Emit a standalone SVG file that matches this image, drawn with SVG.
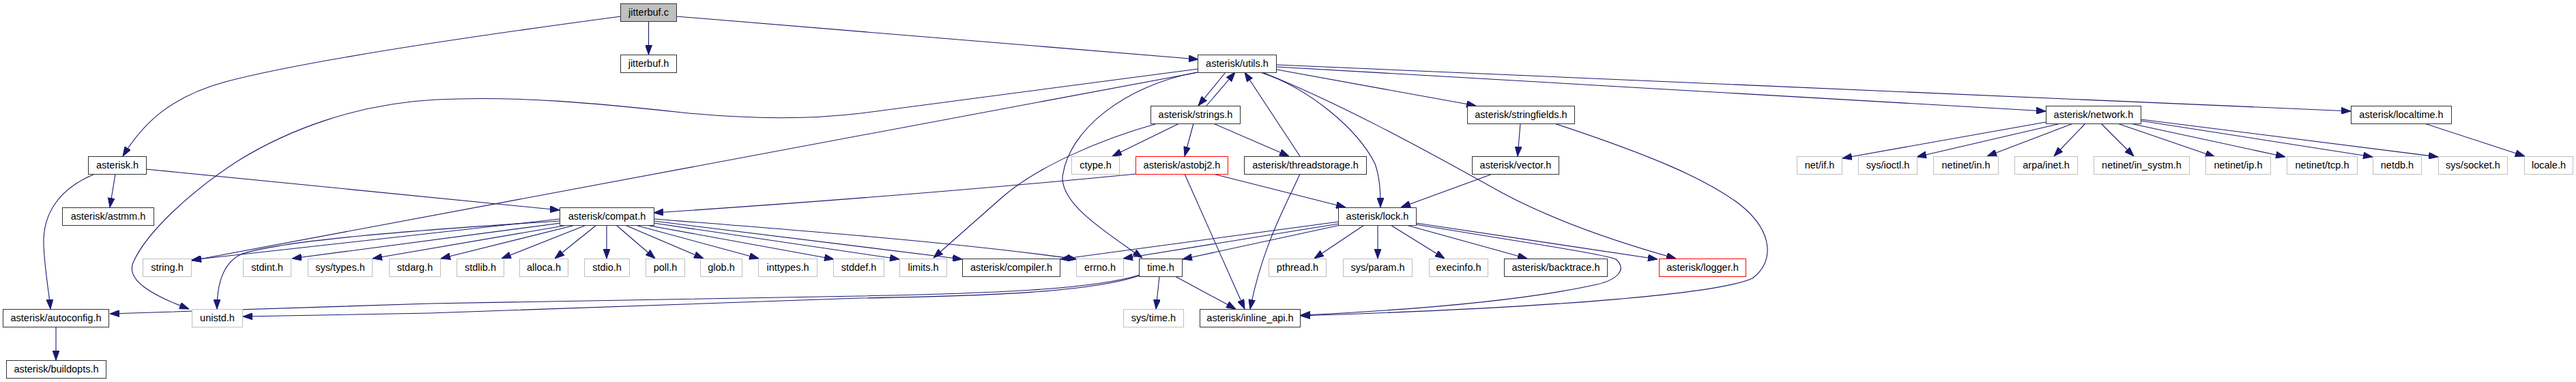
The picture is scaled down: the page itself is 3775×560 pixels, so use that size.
<svg xmlns="http://www.w3.org/2000/svg" width="3775" height="560" viewBox="0 0 3775 560">
<defs>
<style>
.n rect{fill:#fff;stroke:#333;stroke-width:1}
.g rect{stroke:#bfbfbf}
.r rect{stroke:#ff0000}
.root rect{fill:#bfbfbf}
.n text{font-family:"Liberation Sans",Arial,sans-serif;font-size:14.5px;text-anchor:middle;fill:#000}
.e path{fill:none;stroke:#191970;stroke-width:1.1;marker-end:url(#a)}
</style>
<marker id="a" viewBox="0 0 14 10" refX="14" refY="5" markerWidth="14" markerHeight="10" markerUnits="userSpaceOnUse" orient="auto"><path d="M0,0 L14,5 L0,10 Z" fill="#191970" stroke="#191970" stroke-width="1"/></marker>
</defs>
<rect width="3775" height="560" fill="#fff"/>
<g id="edges" class="e">
<path d="M950.5,32 L950.5,80"/>
<path d="M910,24 C700,52 450,88 330,120 C250,142 210,180 180,229"/>
<path d="M991,24 L1756,87"/>
<path d="M169,255 L161,304"/>
<path d="M139,255 C90,275 62,310 64,360 C66,400 72,430 74,453"/>
<path d="M214,248 L820,308"/>
<path d="M1796,106 L1756,155"/>
<path d="M1768,155 L1810,106"/>
<path d="M1905,229 L1824,106"/>
<path d="M1756,101 L1262,166 C1180,176 1090,174 1000,165 C880,152 760,140 640,146 C520,152 420,192 350,235 C280,280 215,340 195,385 C185,410 220,432 277,453"/>
<path d="M1756,106 L281,382"/>
<path d="M1754,106 C1650,125 1565,190 1557,260 C1556,300 1620,340 1674,378"/>
<path d="M1728,181 L1630,229"/>
<path d="M1749,181 L1736,229"/>
<path d="M1778,181 L1889,229"/>
<path d="M1696,181 C1610,205 1520,245 1470,288 L1368,378"/>
<path d="M1665,255 C1450,276 1200,296 958,312"/>
<path d="M1778,255 L1972,304"/>
<path d="M1736,255 L1824,453"/>
<path d="M1905,255 C1885,300 1850,360 1832,453"/>
<path d="M2187,255 L2053,304"/>
<path d="M1847,106 C1920,130 1990,190 2015,240 C2022,260 2023,280 2023,304"/>
<path d="M1850,106 C1960,150 2080,215 2200,282 C2280,325 2370,355 2456,379"/>
<path d="M1871,102 L2163,155"/>
<path d="M1871,98 L2998,163"/>
<path d="M1871,95 L3445,163"/>
<path d="M2228,181 L2224,229"/>
<path d="M2278,181 C2420,228 2500,262 2550,300 C2600,340 2600,385 2568,408 C2520,430 2300,450 1906,463"/>
<path d="M2998,179 L2700,232"/>
<path d="M3020,181 L2809,230"/>
<path d="M3038,181 L2912,229"/>
<path d="M3056,181 L3010,229"/>
<path d="M3079,181 L3127,229"/>
<path d="M3103,181 L3246,230"/>
<path d="M3122,181 L3349,230"/>
<path d="M3137,177 L3477,230"/>
<path d="M3137,175 L3573,230"/>
<path d="M3553,181 L3700,229"/>
<path d="M820,321 L281,381"/>
<path d="M820,324 C600,338 420,352 355,372 C325,385 318,420 318,453"/>
<path d="M822,327 L428,379"/>
<path d="M832,330 L546,379"/>
<path d="M843,330 L646,379"/>
<path d="M859,330 L735,379"/>
<path d="M874,330 L813,379"/>
<path d="M889,330 L889,379"/>
<path d="M903,330 L960,379"/>
<path d="M916,330 L1031,379"/>
<path d="M931,330 L1112,379"/>
<path d="M947,330 L1222,380"/>
<path d="M958,327 L1318,380"/>
<path d="M958,324 L1410,380"/>
<path d="M958,321 C1150,336 1400,355 1578,380"/>
<path d="M1962,325 L1554,380"/>
<path d="M1962,328 L1646,379"/>
<path d="M1964,330 L1733,380"/>
<path d="M1999,330 L1926,379"/>
<path d="M2019,330 L2019,379"/>
<path d="M2038,330 L2117,379"/>
<path d="M2061,330 L2238,379"/>
<path d="M2075,327 L2429,380"/>
<path d="M2075,329 C2200,350 2350,372 2368,380 C2385,395 2370,410 2340,417 C2250,437 2100,453 1906,462"/>
<path d="M1699,405 L1694,453"/>
<path d="M1722,405 L1811,453"/>
<path d="M1670,403 C1600,425 1450,430 1260,434 L630,445 L161,460"/>
<path d="M1670,404 C1600,428 1450,434 1260,437 L630,459 L356,464"/>
<path d="M82,479 L82,528"/>
</g>
<g id="jitterbuf_c" class="n root"><rect x="909.5" y="5.5" width="82" height="26"/><text x="950.5" y="23">jitterbuf.c</text></g>
<g id="jitterbuf_h" class="n"><rect x="909.5" y="80.5" width="82" height="26"/><text x="950.5" y="98">jitterbuf.h</text></g>
<g id="utils" class="n"><rect x="1755.5" y="80.5" width="115" height="26"/><text x="1813" y="98">asterisk/utils.h</text></g>
<g id="strings" class="n"><rect x="1686.5" y="155.5" width="131" height="26"/><text x="1752" y="173">asterisk/strings.h</text></g>
<g id="stringfields" class="n"><rect x="2150.5" y="155.5" width="157" height="26"/><text x="2229" y="173">asterisk/stringfields.h</text></g>
<g id="network" class="n"><rect x="2998.5" y="155.5" width="139" height="26"/><text x="3068" y="173">asterisk/network.h</text></g>
<g id="localtime" class="n"><rect x="3445.5" y="155.5" width="147" height="26"/><text x="3519" y="173">asterisk/localtime.h</text></g>
<g id="asterisk" class="n"><rect x="129.5" y="229.5" width="85" height="26"/><text x="172" y="247">asterisk.h</text></g>
<g id="ctype" class="n g"><rect x="1570.5" y="229.5" width="70" height="26"/><text x="1605.5" y="247">ctype.h</text></g>
<g id="astobj2" class="n r"><rect x="1664.5" y="229.5" width="135" height="26"/><text x="1732" y="247">asterisk/astobj2.h</text></g>
<g id="threadstorage" class="n"><rect x="1823.5" y="229.5" width="179" height="26"/><text x="1913" y="247">asterisk/threadstorage.h</text></g>
<g id="vector" class="n"><rect x="2157.5" y="229.5" width="127" height="26"/><text x="2221" y="247">asterisk/vector.h</text></g>
<g id="netif" class="n g"><rect x="2633.5" y="229.5" width="66" height="26"/><text x="2666.5" y="247">net/if.h</text></g>
<g id="ioctl" class="n g"><rect x="2723.5" y="229.5" width="86" height="26"/><text x="2766.5" y="247">sys/ioctl.h</text></g>
<g id="netin" class="n g"><rect x="2833.5" y="229.5" width="95" height="26"/><text x="2881" y="247">netinet/in.h</text></g>
<g id="arpa" class="n g"><rect x="2952.5" y="229.5" width="92" height="26"/><text x="2998.5" y="247">arpa/inet.h</text></g>
<g id="insystm" class="n g"><rect x="3068.5" y="229.5" width="140" height="26"/><text x="3138.5" y="247">netinet/in_systm.h</text></g>
<g id="ip" class="n g"><rect x="3232.5" y="229.5" width="95" height="26"/><text x="3280" y="247">netinet/ip.h</text></g>
<g id="tcp" class="n g"><rect x="3351.5" y="229.5" width="103" height="26"/><text x="3403" y="247">netinet/tcp.h</text></g>
<g id="netdb" class="n g"><rect x="3477.5" y="229.5" width="71" height="26"/><text x="3513" y="247">netdb.h</text></g>
<g id="socket" class="n g"><rect x="3573.5" y="229.5" width="101" height="26"/><text x="3624" y="247">sys/socket.h</text></g>
<g id="locale" class="n g"><rect x="3699.5" y="229.5" width="71" height="26"/><text x="3735" y="247">locale.h</text></g>
<g id="astmm" class="n"><rect x="91.5" y="304.5" width="134" height="26"/><text x="158.5" y="322">asterisk/astmm.h</text></g>
<g id="compat" class="n"><rect x="820.5" y="304.5" width="138" height="26"/><text x="889.5" y="322">asterisk/compat.h</text></g>
<g id="lock" class="n"><rect x="1961.5" y="304.5" width="114" height="26"/><text x="2018.5" y="322">asterisk/lock.h</text></g>
<g id="string" class="n g"><rect x="209.5" y="379.5" width="71" height="26"/><text x="245" y="397">string.h</text></g>
<g id="stdint" class="n g"><rect x="356.5" y="379.5" width="70" height="26"/><text x="391.5" y="397">stdint.h</text></g>
<g id="systypes" class="n g"><rect x="451.5" y="379.5" width="94" height="26"/><text x="498.5" y="397">sys/types.h</text></g>
<g id="stdarg" class="n g"><rect x="570.5" y="379.5" width="75" height="26"/><text x="608" y="397">stdarg.h</text></g>
<g id="stdlib" class="n g"><rect x="669.5" y="379.5" width="69" height="26"/><text x="704" y="397">stdlib.h</text></g>
<g id="alloca" class="n g"><rect x="761.5" y="379.5" width="71" height="26"/><text x="797" y="397">alloca.h</text></g>
<g id="stdio" class="n g"><rect x="856.5" y="379.5" width="66" height="26"/><text x="889.5" y="397">stdio.h</text></g>
<g id="poll" class="n g"><rect x="946.5" y="379.5" width="57" height="26"/><text x="975" y="397">poll.h</text></g>
<g id="glob" class="n g"><rect x="1026.5" y="379.5" width="61" height="26"/><text x="1057" y="397">glob.h</text></g>
<g id="inttypes" class="n g"><rect x="1111.5" y="379.5" width="86" height="26"/><text x="1154.5" y="397">inttypes.h</text></g>
<g id="stddef" class="n g"><rect x="1221.5" y="379.5" width="74" height="26"/><text x="1258.5" y="397">stddef.h</text></g>
<g id="limits" class="n g"><rect x="1318.5" y="379.5" width="69" height="26"/><text x="1353" y="397">limits.h</text></g>
<g id="compiler" class="n"><rect x="1410.5" y="379.5" width="143" height="26"/><text x="1482" y="397">asterisk/compiler.h</text></g>
<g id="errno" class="n g"><rect x="1577.5" y="379.5" width="69" height="26"/><text x="1612" y="397">errno.h</text></g>
<g id="time" class="n"><rect x="1669.5" y="379.5" width="63" height="26"/><text x="1701" y="397">time.h</text></g>
<g id="pthread" class="n g"><rect x="1859.5" y="379.5" width="84" height="26"/><text x="1901.5" y="397">pthread.h</text></g>
<g id="sysparam" class="n g"><rect x="1968.5" y="379.5" width="101" height="26"/><text x="2019" y="397">sys/param.h</text></g>
<g id="execinfo" class="n g"><rect x="2094.5" y="379.5" width="86" height="26"/><text x="2137.5" y="397">execinfo.h</text></g>
<g id="backtrace" class="n"><rect x="2204.5" y="379.5" width="151" height="26"/><text x="2280" y="397">asterisk/backtrace.h</text></g>
<g id="logger" class="n r"><rect x="2431.5" y="379.5" width="127" height="26"/><text x="2495" y="397">asterisk/logger.h</text></g>
<g id="autoconfig" class="n"><rect x="4.5" y="453.5" width="155" height="26"/><text x="82" y="471">asterisk/autoconfig.h</text></g>
<g id="unistd" class="n g"><rect x="281.5" y="453.5" width="74" height="26"/><text x="318.5" y="471">unistd.h</text></g>
<g id="systime" class="n g"><rect x="1646.5" y="453.5" width="88" height="26"/><text x="1690.5" y="471">sys/time.h</text></g>
<g id="inline_api" class="n"><rect x="1758.5" y="453.5" width="147" height="26"/><text x="1832" y="471">asterisk/inline_api.h</text></g>
<g id="buildopts" class="n"><rect x="9.5" y="528.5" width="146" height="26"/><text x="82.5" y="546">asterisk/buildopts.h</text></g>
</svg>
